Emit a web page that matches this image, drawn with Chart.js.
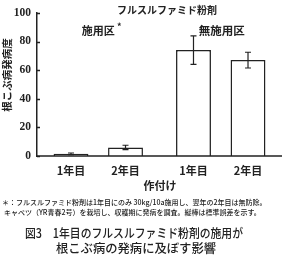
<!DOCTYPE html>
<html lang="ja">
<head>
<meta charset="UTF-8">
<title>根こぶ病の発病</title>
<script src="https://cdn.jsdelivr.net/npm/chart.js"></script>
<style>
  html, body { margin: 0; padding: 0; background: #fff; }
  #wrap { width: 300px; height: 261px; }
</style>
</head>
<body>
<div id="wrap"><canvas id="c" width="300" height="261"></canvas></div>
<script>
// 区分と作付け年
const plots = ['施用区', '無施用区'];
const years = ['1年目', '2年目'];
// 発病度 (year x plot)
const year1Values = [1.5, 74];
const year2Values = [6, 67];
// 標準誤差
const year1Errors = [0.6, 10];
const year2Errors = [1.5, 5.5];
const yTicks = [0, 20, 40, 60, 80, 100];

const ink = '#222';
const jp = '"Noto Sans CJK JP", "Noto Sans", sans-serif';
const serif = '"Liberation Serif", "DejaVu Serif", serif';

const barStyle = {
  backgroundColor: '#fff',
  borderColor: ink,
  borderWidth: 1.5,
  categoryPercentage: 0.89,
  barPercentage: 0.64
};

// error bars + text around the chart
const extras = {
  id: 'extras',
  afterDatasetsDraw(chart) {
    const ctx = chart.ctx;
    const y = chart.scales.y;
    const errs = [year1Errors, year2Errors];
    ctx.save();
    ctx.strokeStyle = ink;
    ctx.lineWidth = 1.2;
    chart.data.datasets.forEach((ds, di) => {
      chart.getDatasetMeta(di).data.forEach((bar, i) => {
        const v = ds.data[i], e = errs[di][i];
        const top = y.getPixelForValue(v + e), bot = y.getPixelForValue(v - e);
        ctx.beginPath();
        ctx.moveTo(bar.x, top); ctx.lineTo(bar.x, bot);
        ctx.moveTo(bar.x - 3, top); ctx.lineTo(bar.x + 3, top);
        ctx.moveTo(bar.x - 3, bot); ctx.lineTo(bar.x + 3, bot);
        ctx.stroke();
      });
    });
    ctx.restore();
  },
  afterDraw(chart) {
    const ctx = chart.ctx;
    const a = chart.chartArea;
    const x = chart.scales.x, y = chart.scales.y;
    ctx.save();
    ctx.fillStyle = ink;
    ctx.strokeStyle = ink;

    // x axis line and inward y ticks
    ctx.lineWidth = 1.5;
    ctx.beginPath();
    ctx.moveTo(a.left, a.bottom); ctx.lineTo(a.right, a.bottom);
    yTicks.forEach(t => {
      const py = Math.round(y.getPixelForValue(t)) + 0.5;
      ctx.moveTo(a.left, py); ctx.lineTo(a.left + 3, py);
    });
    ctx.stroke();

    // year labels under every bar
    ctx.font = 'bold 11px ' + jp;
    ctx.textAlign = 'center';
    ctx.textBaseline = 'middle';
    chart.data.datasets.forEach((ds, di) => {
      chart.getDatasetMeta(di).data.forEach(bar => {
        ctx.fillText(years[di], bar.x, 171);
      });
    });
    ctx.fillText('作付け', 160, 186);

    // header
    ctx.font = 'bold 10px ' + jp;
    ctx.fillText('フルスルファミド粉剤', 167, 10);
    ctx.font = 'bold 11px ' + jp;
    ctx.fillText(plots[0], x.getPixelForValue(0), 31);
    ctx.font = 'bold 9px ' + jp;
    ctx.fillText('*', x.getPixelForValue(0) + 21, 27);
    ctx.font = 'bold 11.5px ' + jp;
    ctx.fillText(plots[1], x.getPixelForValue(1) + 1, 31);

    // y title
    ctx.save();
    ctx.translate(7, 75);
    ctx.rotate(-Math.PI / 2);
    ctx.font = 'bold 10.5px ' + jp;
    ctx.fillText('根こぶ病発病度', 0, 0);
    ctx.restore();

    // footnote
    ctx.font = '500 7px ' + jp;
    ctx.textAlign = 'left';
    ctx.fillText('＊：フルスルファミド粉剤は1年目にのみ 30kg/10a施用し、翌年の2年目は無防除。', 2, 202, 296);
    ctx.fillText('キャベツ（YR青春2号）を栽培し、収穫期に発病を調査。縦棒は標準誤差を示す。', 4, 212, 292);

    // caption
    ctx.font = '500 12.5px ' + jp;
    ctx.textAlign = 'center';
    ctx.fillText('図3　1年目のフルスルファミド粉剤の施用が', 134, 233, 218);
    ctx.fillText('根こぶ病の発病に及ぼす影響', 136, 248, 160);
    ctx.restore();
  }
};

new Chart(document.getElementById('c'), {
  type: 'bar',
  data: {
    labels: plots,
    datasets: [
      Object.assign({ label: years[0], data: year1Values }, barStyle),
      Object.assign({ label: years[1], data: year2Values }, barStyle)
    ]
  },
  options: {
    responsive: false,
    animation: false,
    layout: { padding: { top: 11, right: 18, bottom: 105, left: 0 } },
    plugins: {
      legend: { display: false },
      tooltip: { enabled: false },
      colors: { enabled: false }
    },
    scales: {
      x: { display: false },
      y: {
        min: 0,
        max: 100,
        afterFit(scale) { scale.width = 37; },
        afterBuildTicks(scale) { scale.ticks = yTicks.map(v => ({ value: v })); },
        grid: { display: false, drawTicks: false },
        border: { display: true, color: ink, width: 1.5 },
        ticks: {
          color: ink,
          padding: 6,
          font: { family: serif, size: 11.5, weight: 'bold' }
        }
      }
    }
  },
  plugins: [extras]
});
</script>
</body>
</html>
